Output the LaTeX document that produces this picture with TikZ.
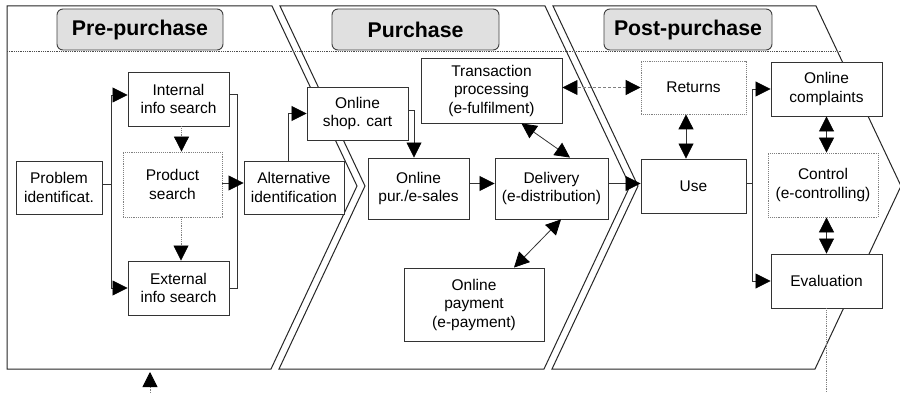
\documentclass[tikz,border=0pt]{standalone}
\usepackage{fontspec}
\setmainfont{Liberation Sans}
\usetikzlibrary{arrows.meta}
\tikzset{
  frame/.style={draw=black!85, line width=1pt},
  box/.style={draw=black!80, fill=white, line width=0.9pt, align=center, inner sep=0pt,
    font=\fontsize{15.5}{18.5}\selectfont},
  dbox/.style={box, draw=gray, densely dotted, line width=0.8pt},
  titlebox/.style={draw=black!75, fill=black!12, rounded corners=6pt, line width=0.9pt,
    font=\fontsize{21.3}{25}\selectfont\bfseries, inner sep=0pt},
  bigtip/.tip={Triangle[length=15pt,width=15pt,color=black]},
  arr/.style={draw=black!80, line width=0.8pt, -bigtip},
  arrtwo/.style={draw=black!80, line width=0.8pt, bigtip-bigtip},
  dotarr/.style={draw=gray, densely dotted, line width=0.8pt, -bigtip},
  dasharrtwo/.style={draw=gray, dash pattern=on 3pt off 2pt, line width=0.8pt, bigtip-bigtip},
  plain/.style={draw=black!80, line width=0.8pt},
  dotline/.style={draw=gray, densely dotted, line width=0.8pt}
}
\begin{document}
\begin{tikzpicture}[x=1pt,y=-1pt]
\useasboundingbox[fill=white] (0,0) rectangle (900,393);
% frames
\draw[frame] (7,6) -- (272,6) -- (357,186) -- (271,369) -- (7,369) -- cycle;
\draw[frame] (280,6) -- (545,6) -- (630,186) -- (544,369) -- (279,369) -- (365,186) -- cycle;
\draw[frame] (553,6) -- (816,6) -- (901,186) -- (815,369) -- (552,369) -- (638,186) -- cycle;
\coordinate (dl) at (7,51);
\coordinate (dr) at (842,51);
\draw[dotline, draw=black!70] (dl) -- (dr);
% titles
\node[titlebox, minimum width=166pt, minimum height=41pt] (t1) at (140,29.5) {Pre-purchase};
\node[titlebox, minimum width=167pt, minimum height=41pt] (t2) at (415.5,29.5) {Purchase};
\node[titlebox, minimum width=168pt, minimum height=41pt] (t3) at (688,29.5) {Post-purchase};
% nodes
\node[box, minimum width=86pt, minimum height=53pt] (prob) at (59,187.5) {Problem\\identificat.};
\node[box, minimum width=101pt, minimum height=54pt] (int) at (178.5,99) {Internal\\info search};
\node[dbox, minimum width=99pt, minimum height=65pt] (prod) at (172.5,184.5) {Product\\search};
\node[box, minimum width=101pt, minimum height=54pt] (ext) at (178.5,288) {External\\info search};
\node[box, minimum width=100pt, minimum height=53pt] (alt) at (294,187.5) {Alternative\\identification};
\node[box, minimum width=101pt, minimum height=53pt] (cart) at (357.5,113.5) {Online\\shop. cart};
\node[box, minimum width=101pt, minimum height=61pt] (pur) at (418.5,188.5) {Online\\pur./e-sales};
\node[box, minimum width=113pt, minimum height=61pt] (del) at (551.5,188.5) {Delivery\\(e-distribution)};
\node[box, minimum width=141pt, minimum height=65pt] (trans) at (491.5,90.5) {Transaction\\processing\\(e-fulfilment)};
\node[box, minimum width=140pt, minimum height=73pt] (pay) at (474,304.5) {Online\\payment\\(e-payment)};
\node[dbox, minimum width=105pt, minimum height=53pt] (ret) at (693.5,87.5) {Returns};
\node[box, minimum width=105pt, minimum height=54pt] (use) at (693.5,186) {Use};
\node[box, minimum width=111pt, minimum height=54pt] (comp) at (826.5,89) {Online\\complaints};
\node[dbox, minimum width=110pt, minimum height=64pt] (ctrl) at (823,185) {Control\\(e-controlling)};
\node[box, minimum width=111pt, minimum height=54pt] (eval) at (826.5,281) {Evaluation};
% connectors pre-purchase
\draw[arr] ([yshift=3pt]prob.east) -- ++(9,0) |- ([yshift=4pt]int.west);
\draw[arr] ([yshift=3pt]prob.east) -- ++(9,0) |- (ext.west);
\draw[dotarr] ([xshift=3pt]int.south) -- ([xshift=3pt]int.south |- prod.north);
\draw[dotarr] ([xshift=2.5pt]ext.north |- prod.south) -- ([xshift=2.5pt]ext.north);
\draw[plain] ([yshift=5pt]int.east) -- ++(8,0) |- (ext.east);
\draw[arr] ([yshift=1.5pt]prod.east) -- ([yshift=1.5pt]prod.east -| alt.west);
% purchase
\draw[arr] ([xshift=-6pt]alt.north) |- (cart.west);
\draw[arr] ([yshift=3.5pt]cart.east) -| ([xshift=-4.5pt]pur.north);
\draw[arr] ([yshift=5pt]pur.east) -- ([yshift=5pt]del.west);
\draw[arrtwo] ([xshift=30pt]trans.south) -- ([xshift=18.5pt]del.north);
\draw[arrtwo] ([xshift=9.5pt]del.south) -- ([xshift=40pt]pay.north);
\draw[arr] ([yshift=5pt]del.east) -- ([yshift=5pt]del.east -| use.west);
% post-purchase
\draw[dasharrtwo] (ret.west) -- (ret.west -| trans.east);
\draw[arrtwo] ([xshift=-7.5pt]ret.south) -- ([xshift=-7.5pt]use.north);
\draw[arr] ([yshift=3pt]use.east) -- ++(6,0) |- (comp.west);
\draw[arr] ([yshift=3pt]use.east) -- ++(6,0) |- (eval.west);
\draw[arrtwo] (comp.south) -- (comp.south |- ctrl.north);
\draw[arrtwo] (eval.north |- ctrl.south) -- (eval.north);
\coordinate (evend) at (826.5,393);
\draw[dotline] (eval.south) -- (evend);
\coordinate (inA) at (150,393);
\coordinate (inB) at (150,372);
\draw[dotarr] (inA) -- (inB);
\end{tikzpicture}
\end{document}
